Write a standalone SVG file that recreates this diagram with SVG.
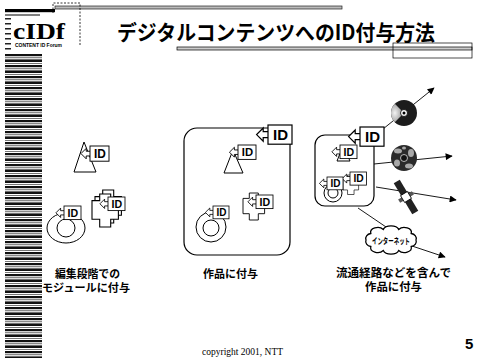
<svg xmlns="http://www.w3.org/2000/svg" xmlns:xlink="http://www.w3.org/1999/xlink" width="480" height="361" viewBox="0 0 480 361">
  <style>
    .jp{font-family:"Noto Sans CJK JP","Noto Sans CJK SC",sans-serif;font-weight:bold;fill:#000}
    .box{fill:none;stroke:#000;stroke-width:1.2}
    .sh{fill:#fff;stroke:#000;stroke-width:1}
    .ln{fill:none;stroke:#000;stroke-width:0.9}
  </style>
  <defs>
    <!-- banded margin strip -->
    <pattern id="stripes" x="0" y="54" width="40" height="11" patternUnits="userSpaceOnUse">
      <rect y="0" width="40" height="2.2" fill="#111"/>
      <rect y="3.3" width="40" height="0.9" fill="#555"/>
      <rect y="5.4" width="40" height="2.6" fill="#111"/>
      <rect y="9" width="40" height="0.9" fill="#666"/>
    </pattern>
    <radialGradient id="shine" cx="0.3" cy="0.5" r="0.7">
      <stop offset="0" stop-color="#f2f2f2"/>
      <stop offset="1" stop-color="#888"/>
    </radialGradient>
    <marker id="ah" viewBox="0 0 10 10" refX="9" refY="5" markerWidth="8" markerHeight="7" orient="auto" markerUnits="userSpaceOnUse">
      <path d="M0,0 L10,5 L0,10 z" fill="#000"/>
    </marker>
    <!-- ID tag: box with hollow arrow pointing left -->
    <g id="tag">
      <polygon points="1,5.5 -4,5.5 -4,2.5 -9.5,8 -4,13.5 -4,10.5 1,10.5" fill="#fff" stroke="#000" stroke-width="1"/>
      <rect x="0" y="0" width="20" height="16" fill="#fff" stroke="#000" stroke-width="1"/>
      <text x="10.5" y="12.6" font-family="Liberation Sans, Arial, sans-serif" font-weight="bold" font-size="12.5" text-anchor="middle">ID</text>
    </g>
    <!-- plus-shaped module -->
    <polygon id="cross" points="7,0 17,0 17,6 24,6 24,23 17,23 17,30 7,30 7,23 0,23 0,6 7,6" fill="#fff" stroke="#000" stroke-width="1"/>
  </defs>

  <rect width="480" height="361" fill="#fff"/>

  <!-- header -->
  <g id="header">
    <rect x="5" y="9" width="50" height="3.2" fill="#000"/>
    <line x1="5" y1="15" x2="40" y2="15" stroke="#000" stroke-width="1"/>
    <rect x="55" y="6" width="287" height="3" fill="#bbb" stroke="#222" stroke-width="0.7"/>
    <path d="M53,13 V3 H80 V45" fill="none" stroke="#000" stroke-width="0.8" stroke-dasharray="2,1.5"/>
    <g fill="#222">
      <rect x="5" y="18" width="6" height="1.5"/>
      <rect x="5" y="23" width="6" height="1.5"/>
      <rect x="5" y="28" width="6" height="1.5"/>
      <rect x="5" y="33" width="6" height="1.5"/>
      <rect x="5" y="38" width="6" height="1.5"/>
      <rect x="5" y="43" width="6" height="1.5"/>
      <rect x="5" y="48" width="6" height="1.5"/>
    </g>
    <text x="13" y="38.5" font-family="Liberation Serif, serif" font-weight="bold" font-size="23" textLength="52" lengthAdjust="spacingAndGlyphs">cIDf</text>
    <text x="15" y="47" font-family="Liberation Sans, sans-serif" font-weight="bold" font-size="4.6" textLength="47" lengthAdjust="spacingAndGlyphs">CONTENT ID Forum</text>
    <text class="jp" x="117" y="40" font-size="21" textLength="318" lengthAdjust="spacingAndGlyphs">デジタルコンテンツへのID付与方法</text>
    <rect x="177" y="47" width="295" height="3" fill="#ccc" stroke="#000" stroke-width="0.7"/>
    <rect x="393" y="43" width="79" height="15" fill="none" stroke="#000" stroke-width="0.7"/>
  </g>

  <!-- margin strip -->
  <rect id="strip" x="5" y="54" width="37" height="304" fill="url(#stripes)"/>

  <!-- connectors -->
  <g id="connectors" class="ln">
    <line x1="383" y1="129" x2="434" y2="88" marker-end="url(#ah)"/>
    <line x1="374" y1="164" x2="452" y2="156" marker-end="url(#ah)"/>
    <line x1="376" y1="187" x2="456" y2="200" marker-end="url(#ah)"/>
    <line x1="358" y1="208" x2="389" y2="229"/>
    <line x1="412" y1="246" x2="445" y2="257" marker-end="url(#ah)"/>
  </g>

  <!-- modules at the editing stage -->
  <g id="left-triangle">
    <polygon class="sh" points="84,142 74,172 96,172"/>
    <use href="#tag" transform="translate(90,146) scale(0.95)"/>
  </g>
  <g id="left-loop">
    <ellipse class="sh" cx="66" cy="228" rx="19" ry="15" fill="none"/>
    <ellipse class="sh" cx="66" cy="228" rx="9" ry="9"/>
    <use href="#tag" transform="translate(64,206) scale(0.85)"/>
  </g>
  <g id="left-cross">
    <use href="#cross" transform="translate(95,190) scale(1.1)"/>
    <use href="#cross" transform="translate(92,194) scale(1.1)"/>
    <use href="#tag" transform="translate(108,197) scale(0.85)"/>
  </g>

  <!-- work with embedded modules -->
  <g id="work">
    <rect class="box" x="184" y="128" width="106" height="127" rx="13"/>
    <polygon class="sh" points="233,150 224,173 243,173"/>
    <use href="#tag" transform="translate(238,145) scale(0.9)"/>
    <use href="#cross" transform="translate(243,193) scale(0.9)"/>
    <use href="#tag" transform="translate(256,195) scale(0.85)"/>
    <circle class="sh" cx="211" cy="227" r="15"/>
    <circle class="sh" cx="211" cy="228" r="8"/>
    <use href="#tag" transform="translate(213,206) scale(0.8)"/>
    <use href="#tag" transform="translate(268,125) scale(1.2)"/>
  </g>

  <!-- work with distribution routes -->
  <g id="work-dist">
    <rect class="box" x="315" y="135" width="59" height="71" rx="10"/>
    <polygon class="sh" points="343,146 337,161 350,161"/>
    <use href="#tag" transform="translate(340,145) scale(0.85)"/>
    <use href="#cross" transform="translate(343,175) scale(0.65)"/>
    <use href="#tag" transform="translate(350,172) scale(0.82)"/>
    <circle class="sh" cx="333" cy="193" r="9"/>
    <circle class="sh" cx="333" cy="193" r="5"/>
    <use href="#tag" transform="translate(327,177) scale(0.8)"/>
    <use href="#tag" transform="translate(360,127) scale(1.2)"/>
  </g>

  <g id="disc">
    <circle cx="404" cy="113" r="13" fill="#1c1c1c"/>
    <path d="M404,113 L394.8,103.8 A13,13 0 0 0 394.8,122.2 Z" fill="url(#shine)"/>
    <circle cx="404" cy="113" r="3.5" fill="#fff" stroke="#000" stroke-width="0.8"/>
    <circle cx="404" cy="113" r="1.5" fill="#000"/>
  </g>

  <g id="broadcast">
    <circle cx="404" cy="158" r="13" fill="#2a2a2a"/>
    <g fill="#a8a8a8">
      <ellipse cx="398" cy="151" rx="4" ry="2.5"/>
      <ellipse cx="411" cy="153" rx="3" ry="4"/>
      <ellipse cx="397" cy="163" rx="3" ry="3.5"/>
      <ellipse cx="409" cy="166" rx="4" ry="2.5"/>
      <ellipse cx="404" cy="148" rx="2" ry="1.5"/>
    </g>
    <circle cx="404" cy="158" r="3.5" fill="#111" stroke="#ddd" stroke-width="0.8"/>
  </g>

  <g id="satellite" transform="translate(406,197) rotate(59)">
    <rect x="-18" y="-3.5" width="36" height="7" fill="#222"/>
    <rect x="-2" y="-8" width="4" height="16" fill="#555"/>
    <rect x="-4" y="-4" width="8" height="8" fill="#fff" stroke="#000" stroke-width="0.8"/>
  </g>

  <g id="internet">
    <path d="M416,240 A6,5 0 0 1 411.2,246.5 A7,5 0 0 1 398.7,250.5 A8,5 0 0 1 383.3,250.5 A7,5 0 0 1 370.8,246.5 A6,5 0 0 1 366,240 A6,5 0 0 1 370.8,233.5 A7,5 0 0 1 383.3,229.5 A8,5 0 0 1 398.7,229.5 A7,5 0 0 1 411.2,233.5 A6,5 0 0 1 416,240 Z" fill="#fff" stroke="#000" stroke-width="1.3"/>
    <text class="jp" x="391" y="243.5" font-size="8.5" text-anchor="middle" textLength="38" lengthAdjust="spacingAndGlyphs">インターネット</text>
  </g>

  <!-- captions -->
  <g id="captions" class="jp" font-size="11">
    <text x="55" y="278" textLength="65" lengthAdjust="spacingAndGlyphs">編集段階での</text>
    <text x="42" y="292" textLength="88" lengthAdjust="spacingAndGlyphs">モジュールに付与</text>
    <text x="203" y="278" textLength="55" lengthAdjust="spacingAndGlyphs">作品に付与</text>
    <text x="336" y="277" font-size="11.5" textLength="115" lengthAdjust="spacingAndGlyphs">流通経路などを含んで</text>
    <text x="365" y="291" font-size="11.5" textLength="57" lengthAdjust="spacingAndGlyphs">作品に付与</text>
  </g>

  <text x="202" y="355" font-family="Liberation Serif, serif" font-size="9.5">copyright 2001, NTT</text>
  <text x="465" y="349" font-family="Liberation Sans, Arial, sans-serif" font-weight="bold" font-size="15">5</text>
</svg>
